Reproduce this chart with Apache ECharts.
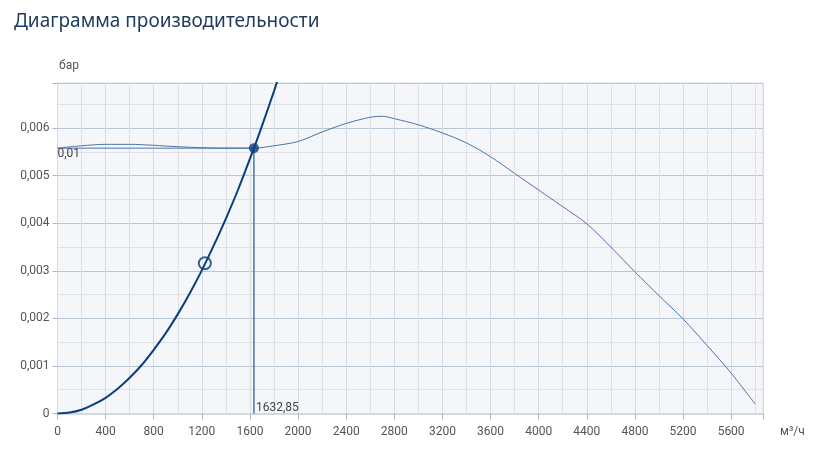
<!DOCTYPE html>
<html><head><meta charset="utf-8">
<script src="https://cdn.jsdelivr.net/npm/echarts@6/dist/echarts.min.js"></script>
<style>html,body{margin:0;padding:0;background:#fff}#c{width:823px;height:459px}</style>
</head><body><div id="c"></div>
<script>
// Data
const titleText = 'Диаграмма производительности';
const yUnit = 'бар';
const xUnit = 'м³/ч';
const fanFlow = [0, 200, 400, 600, 800, 1000, 1200, 1400, 1632.85, 1800, 2000, 2200, 2400, 2600, 2700, 2800, 3000, 3200, 3400, 3600, 3800, 4000, 4200, 4400, 4600, 4800, 5000, 5200, 5400, 5600, 5800];
const fanPressure = [0.00558, 0.00563, 0.00566, 0.00566, 0.00564, 0.00561, 0.00559, 0.00558, 0.00558, 0.00563, 0.00572, 0.00592, 0.00610, 0.00623, 0.00625, 0.00620, 0.00607, 0.00590, 0.00569, 0.00540, 0.00505, 0.00470, 0.00435, 0.00399, 0.00350, 0.00298, 0.00248, 0.00199, 0.00143, 0.00085, 0.00020];
const sysFlow = [0, 100, 200, 300, 400, 500, 600, 700, 800, 900, 1000, 1100, 1200, 1300, 1400, 1500, 1632.85, 1700, 1800, 1900];
const sysPressure = [0, 0.00002, 0.00008, 0.00019, 0.00033, 0.00052, 0.00075, 0.00102, 0.00134, 0.00169, 0.00209, 0.00253, 0.00301, 0.00354, 0.00410, 0.00470, 0.00558, 0.00605, 0.00678, 0.00755];
const opPoint = [1632.85, 0.00558];
const opFlowLabel = '1632,85';
const opPressureLabel = '0,01';
const openMarker = [1225, 0.00316];

const xMax = 5865, yMax = 0.00695;
const zip = (a, b) => a.map((v, i) => [v, b[i]]);

const chart = echarts.init(document.getElementById('c'), null, {renderer: 'canvas'});
const labelFont = 'Roboto, "Noto Sans", sans-serif';
chart.setOption({
  animation: false,
  title: {
    text: titleText, left: 9, top: 7,
    textStyle: {fontFamily: '"Noto Sans", "Open Sans", sans-serif', fontSize: 19, fontWeight: 'normal', color: '#1e3a5c'}
  },
  grid: {left: 57.5, right: 60, top: 83, bottom: 45.5, show: true, backgroundColor: '#f4f6f9', borderColor: '#d9dee4', borderWidth: 1},
  xAxis: {
    type: 'value', min: 0, max: xMax, interval: 400,
    axisLine: {show: true, lineStyle: {color: '#d3d9e0', width: 2}},
    axisTick: {show: true, length: 6, lineStyle: {color: '#a8b7c8'}},
    axisLabel: {margin: 12, color: '#555', fontSize: 12, fontFamily: labelFont,
      formatter: v => (v % 400 === 0 ? String(v) : '')},
    splitLine: {show: true, lineStyle: {color: '#d6dbe1'}},
    minorTick: {show: false, splitNumber: 2},
    minorSplitLine: {show: true, lineStyle: {color: '#dde1e6'}}
  },
  yAxis: {
    type: 'value', min: 0, max: yMax, interval: 0.001,
    axisLine: {show: false},
    axisTick: {show: true, length: 5, lineStyle: {color: '#a8b7c8'}},
    axisLabel: {margin: 8, color: '#555', fontSize: 12, fontFamily: labelFont,
      formatter: v => (v === 0 ? '0' : (Math.abs(v * 1000 - Math.round(v * 1000)) < 1e-6 ? v.toFixed(3).replace('.', ',') : ''))},
    splitLine: {show: true, lineStyle: {color: '#b9c6d4'}},
    minorTick: {show: false, splitNumber: 2},
    minorSplitLine: {show: true, lineStyle: {color: '#dfe3e8'}}
  },
  graphic: [
    {type: 'text', left: 59, top: 60, style: {text: yUnit, fill: '#555', font: '12px ' + labelFont}},
    {type: 'text', left: 780, top: 426, style: {text: xUnit, fill: '#555', font: '12px ' + labelFont}}
  ],
  series: [
    {
      type: 'line', name: 'fan', data: zip(fanFlow, fanPressure), smooth: 0.3, showSymbol: false,
      lineStyle: {color: '#4a75aa', width: 1}, z: 3
    },
    {
      type: 'line', name: 'hguide', showSymbol: true, symbolSize: 0, silent: true,
      data: [{value: [0, opPoint[1]], label: {show: true, formatter: opPressureLabel, position: 'bottom', align: 'left', distance: 0, color: '#444', fontSize: 12, fontFamily: labelFont}}, opPoint],
      lineStyle: {color: '#4a75aa', width: 1}, z: 2
    },
    {
      type: 'line', name: 'vguide', showSymbol: true, symbolSize: 0, silent: true,
      data: [{value: [opPoint[0], 0], label: {show: true, formatter: opFlowLabel, position: 'right', distance: 2, verticalAlign: 'bottom', color: '#444', fontSize: 12, fontFamily: labelFont}}, opPoint],
      lineStyle: {color: '#4a75aa', width: 1.5}, z: 2
    },
    {
      type: 'line', name: 'system', data: zip(sysFlow, sysPressure), smooth: 0.3, showSymbol: false, clip: true,
      lineStyle: {color: '#0b3f7c', width: 2}, z: 4
    },
    {
      type: 'scatter', name: 'op', data: [opPoint], symbolSize: 10,
      itemStyle: {color: '#0b3f7c'}, z: 5
    },
    {
      type: 'scatter', name: 'marker', data: [openMarker], symbolSize: 12,
      itemStyle: {color: 'rgba(0,0,0,0)', borderColor: '#0b3f7c', borderWidth: 2}, z: 5
    }
  ]
});
</script></body></html>
